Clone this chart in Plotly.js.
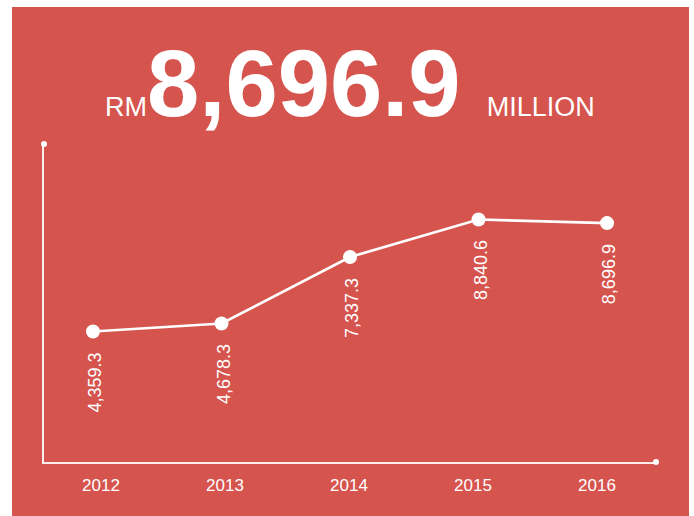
<!DOCTYPE html>
<html>
<head>
<meta charset="utf-8">
<script src="https://cdn.plot.ly/plotly-3.0.1.min.js"></script>
<style>
html,body{margin:0;padding:0;background:#ffffff;width:694px;height:516px;overflow:hidden;}
#chart{position:absolute;left:12px;top:7px;width:677px;height:509px;}
</style>
</head>
<body>
<div id="chart"></div>
<script>
var years = ['2012', '2013', '2014', '2015', '2016'];
var revenue = [4359.3, 4678.3, 7337.3, 8840.6, 8696.9];
var headlineValue = '8,696.9';
var headlinePrefix = 'RM';
var headlineSuffix = 'MILLION';

var FONT = 'Liberation Sans, Arial, Helvetica, sans-serif';
var BG = '#d6544e';
var AXIS = 'rgba(255,255,255,0.9)';

function fmt(v) {
  return v.toLocaleString('en-US', {minimumFractionDigits: 1, maximumFractionDigits: 1});
}

var main = {
  x: years, y: revenue, type: 'scatter', mode: 'lines+markers',
  line: {color: '#ffffff', width: 2.6},
  marker: {color: '#ffffff', size: 14},
  cliponaxis: false, hoverinfo: 'skip', showlegend: false
};
var labelsTrace = {
  x: years, y: revenue, xaxis: 'x2', type: 'scatter', mode: 'markers',
  marker: {opacity: 0}, hoverinfo: 'skip', showlegend: false
};

var annotations = years.map(function (yr, i) {
  return {
    x: i, y: revenue[i], xref: 'x', yref: 'y',
    text: fmt(revenue[i]), textangle: -90, showarrow: false,
    xanchor: 'center', yanchor: 'top', yshift: -19, xshift: 2,
    font: {family: FONT, size: 18, color: '#ffffff'}
  };
});
annotations.push({
  x: 0.5, y: 1.019, xref: 'paper', yref: 'paper',
  xanchor: 'center', yanchor: 'bottom', showarrow: false,
  text: headlinePrefix + '<span style="font-size:94px;font-weight:bold">' + headlineValue + ' </span>' + headlineSuffix,
  font: {family: FONT, size: 27, color: '#ffffff'}
});

var layout = {
  width: 677, height: 509,
  paper_bgcolor: BG, plot_bgcolor: BG,
  margin: {l: 32, r: 33, t: 137, b: 54},
  showlegend: false,
  xaxis: {
    type: 'category', range: [-0.3813, 4.381], showgrid: false, zeroline: false,
    showline: true, linecolor: AXIS, linewidth: 2, showticklabels: false, ticks: '',
    fixedrange: true
  },
  xaxis2: {
    type: 'category', overlaying: 'x', anchor: 'y', side: 'bottom',
    range: [-0.4597, 4.476], showgrid: false, zeroline: false, showline: false,
    ticks: '', tickfont: {family: FONT, size: 17, color: '#ffffff'}, ticklabelstandoff: 11
  },
  yaxis: {
    range: [-863, 11862], showgrid: false, zeroline: false,
    showline: true, linecolor: AXIS, linewidth: 2, showticklabels: false, ticks: ''
  },
  shapes: [
    {type: 'circle', xref: 'paper', yref: 'paper', xsizemode: 'pixel', ysizemode: 'pixel',
     xanchor: 1, yanchor: 0, x0: -3, x1: 3, y0: -3, y1: 3, fillcolor: '#ffffff', line: {width: 0}},
    {type: 'circle', xref: 'paper', yref: 'paper', xsizemode: 'pixel', ysizemode: 'pixel',
     xanchor: 0, yanchor: 1, x0: -3, x1: 3, y0: -3, y1: 3, fillcolor: '#ffffff', line: {width: 0}}
  ],
  annotations: annotations
};

Plotly.newPlot('chart', [main, labelsTrace], layout, {displayModeBar: false, staticPlot: true});
</script>
</body>
</html>
